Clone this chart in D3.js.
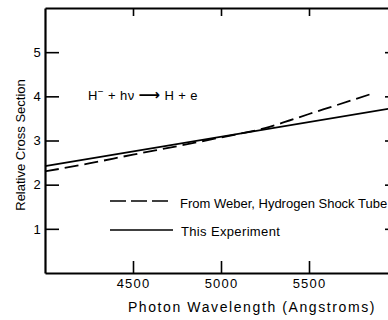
<!DOCTYPE html>
<html>
<head>
<meta charset="utf-8">
<script src="https://cdn.jsdelivr.net/npm/d3@7"></script>
<style>
  body { margin: 0; background: #fff; }
  svg { display: block; font-family: "Liberation Sans", Arial, sans-serif; }
</style>
</head>
<body>
<div id="chart"></div>
<script>
// Weber shock tube curve (dashed)
const weberWl = [4000, 4250, 4500, 4750, 5000, 5250, 5500, 5750, 5850];
const weberVal = [2.30, 2.48, 2.68, 2.87, 3.07, 3.28, 3.60, 3.92, 4.05];
// this experiment (solid)
const expWl = [4000, 6000];
const expVal = [2.42, 3.75];

const xTicks = [4500, 5000, 5500];
const yTicks = [1, 2, 3, 4, 5];

const W = 388, H = 320;
const M = { top: 8, left: 45, bottomY: 273, rightX: 397 };

const svg = d3.select("#chart").append("svg")
  .attr("width", W).attr("height", H);

const x = d3.scaleLinear().domain([4000, 6000]).range([M.left, M.rightX]);
const y = d3.scaleLinear().domain([0, 6]).range([M.bottomY, M.top]);

// axes
const xAxis = svg.append("g")
  .attr("transform", `translate(0,${M.bottomY})`)
  .call(d3.axisBottom(x).tickValues(xTicks).tickFormat(d3.format("d"))
    .tickSizeInner(-12).tickSizeOuter(0).tickPadding(6));
const xTop = svg.append("g")
  .attr("transform", `translate(0,${M.top})`)
  .call(d3.axisTop(x).tickValues(xTicks).tickSizeInner(-8).tickSizeOuter(0).tickFormat(""));
const yAxis = svg.append("g")
  .attr("transform", `translate(${M.left},0)`)
  .call(d3.axisLeft(y).tickValues(yTicks).tickFormat(d3.format("d"))
    .tickSizeInner(-14).tickSizeOuter(0).tickPadding(3));
const yRight = svg.append("g")
  .attr("transform", `translate(${M.rightX},0)`)
  .call(d3.axisRight(y).tickValues(yTicks).tickSizeInner(-12).tickSizeOuter(0).tickFormat(""));

[xAxis, xTop, yAxis, yRight].forEach(g => {
  g.select(".domain").attr("stroke", "#000").attr("stroke-width", 2.2);
  g.selectAll(".tick line").attr("stroke", "#000").attr("stroke-width", 1.6);
  g.selectAll(".tick text").attr("fill", "#000").style("font-size", "13px")
    .style("letter-spacing", "1.2px")
    .style("font-family", "Liberation Sans, Arial, sans-serif");
});

const line = d3.line().x(d => x(d[0])).y(d => y(d[1]));

svg.append("path")
  .datum(expWl.map((w, i) => [w, expVal[i]]))
  .attr("d", line)
  .attr("fill", "none").attr("stroke", "#000").attr("stroke-width", 1.8);

svg.append("path")
  .datum(weberWl.map((w, i) => [w, weberVal[i]]))
  .attr("d", line.curve(d3.curveMonotoneX))
  .attr("fill", "none").attr("stroke", "#000").attr("stroke-width", 1.8)
  .attr("stroke-dasharray", "14,6");

// legend
svg.append("line").attr("x1", 110).attr("x2", 173).attr("y1", 201).attr("y2", 201)
  .attr("stroke", "#000").attr("stroke-width", 1.6).attr("stroke-dasharray", "16,5");
svg.append("text").attr("x", 180).attr("y", 207.5).style("font-size", "13px")
  .text("From Weber, Hydrogen Shock Tube");
svg.append("line").attr("x1", 110).attr("x2", 173).attr("y1", 230).attr("y2", 230)
  .attr("stroke", "#000").attr("stroke-width", 1.6);
svg.append("text").attr("x", 181).attr("y", 236).style("font-size", "13px")
  .style("letter-spacing", "0.35px").text("This Experiment");

// reaction
const eq = svg.append("text").attr("x", 88).attr("y", 100).style("font-size", "13px")
  .style("letter-spacing", "0.4px");
eq.append("tspan").text("H");
eq.append("tspan").attr("dy", -5).style("font-size", "10px").text("\u2212");
eq.append("tspan").attr("dy", 5).text(" + h\u03BD ");
eq.append("tspan").style("font-family", "DejaVu Sans").style("font-size", "15px")
  .style("font-weight", "bold").text("\u27F6");
eq.append("tspan").text(" H + e");

// axis titles
svg.append("text").attr("x", 252).attr("y", 312).attr("text-anchor", "middle")
  .style("font-size", "14px").style("letter-spacing", "1.6px")
  .text("Photon Wavelength (Angstroms)");
svg.append("text").attr("transform", "translate(25,145) rotate(-90)")
  .attr("text-anchor", "middle").style("font-size", "13px").text("Relative Cross Section");
</script>
</body>
</html>
